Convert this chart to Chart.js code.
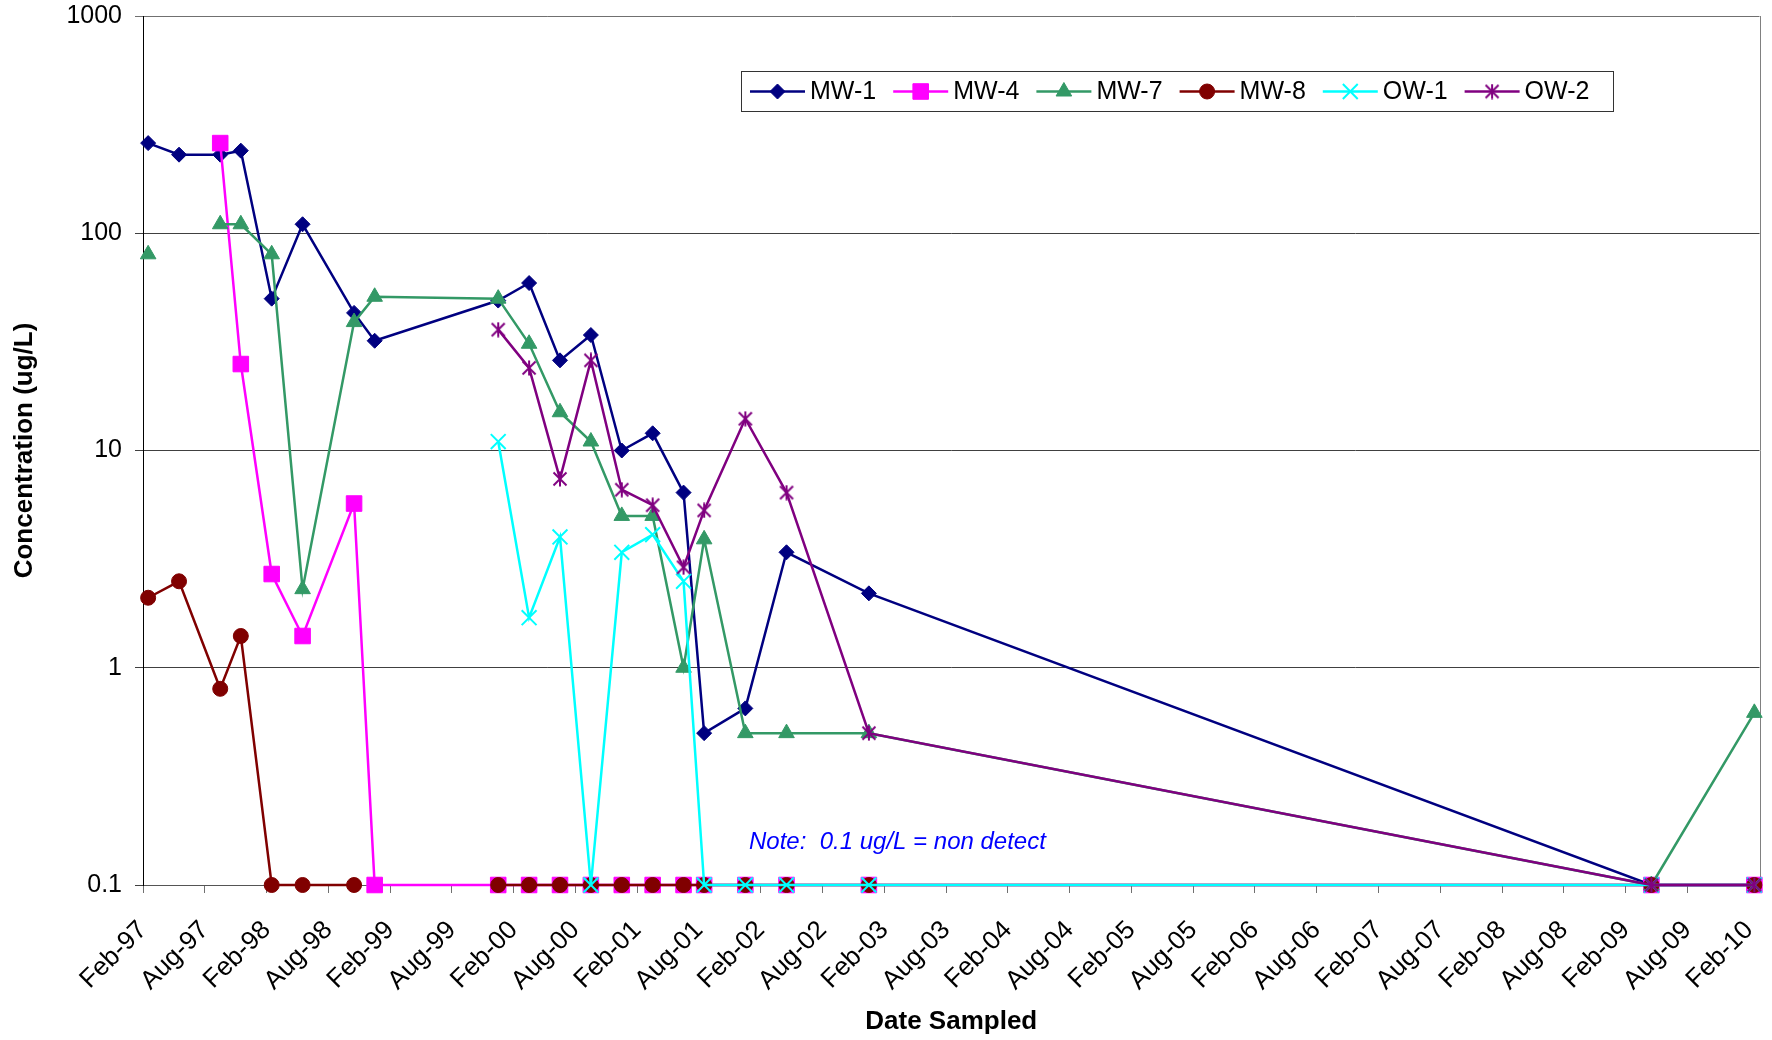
<!DOCTYPE html>
<html>
<head>
<meta charset="utf-8">
<title>Concentration vs. Date Sampled</title>
<script src="https://cdn.jsdelivr.net/npm/chart.js@4.4.1/dist/chart.umd.min.js"></script>
<style>
  html, body { margin: 0; padding: 0; background: #ffffff; }
  #wrap { width: 1772px; height: 1040px; }
</style>
</head>
<body>
<div id="wrap"><canvas id="chart" width="1772" height="1040"></canvas></div>
<script>
// Sampling events (year-month); null = not sampled on that date
const sampleDates = ['1997-02', '1997-05', '1997-09', '1997-11', '1998-02', '1998-05', '1998-10',
  '1998-12', '1999-12', '2000-03', '2000-06', '2000-09', '2000-12', '2001-03', '2001-06',
  '2001-08', '2001-12', '2002-04', '2002-12', '2009-04', '2010-02'];

// Concentrations in ug/L (0.1 = non detect)
const mw1 = [260, 230, 230, 240, 50, 110, 43, 32, 49, 59, 26, 34, 10, 12, 6.4, 0.5, 0.65, 3.4, 2.2, 0.1, 0.1];
const mw4 = [null, null, 260, 25, 2.7, 1.4, 5.7, 0.1, 0.1, 0.1, 0.1, 0.1, 0.1, 0.1, 0.1, 0.1, 0.1, 0.1, 0.1, 0.1, 0.1];
const mw7 = [80, null, 110, 110, 80, 2.3, 39, 51, 50, 31, 15, 11, 5.0, 5.0, 1.0, 3.9, 0.5, 0.5, 0.5, 0.1, 0.62];
const mw8 = [2.1, 2.5, 0.8, 1.4, 0.1, 0.1, 0.1, null, 0.1, 0.1, 0.1, 0.1, 0.1, 0.1, 0.1, 0.1, 0.1, 0.1, 0.1, 0.1, 0.1];
const ow1 = [null, null, null, null, null, null, null, null, 11, 1.7, 4.0, 0.1, 3.4, 4.1, 2.5, 0.1, 0.1, 0.1, 0.1, 0.1, 0.1];
const ow2 = [null, null, null, null, null, null, null, null, 36, 24, 7.4, 26, 6.6, 5.6, 2.9, 5.3, 14, 6.4, 0.5, 0.1, 0.1];

const seriesNames = ['MW-1', 'MW-4', 'MW-7', 'MW-8', 'OW-1', 'OW-2'];

// Axis ticks
const yTickValues = [0.1, 1, 10, 100, 1000];
const yTickLabels = ['0.1', '1', '10', '100', '1000'];
const xTickLabels = ['Feb-97', 'Aug-97', 'Feb-98', 'Aug-98', 'Feb-99', 'Aug-99', 'Feb-00', 'Aug-00',
  'Feb-01', 'Aug-01', 'Feb-02', 'Aug-02', 'Feb-03', 'Aug-03', 'Feb-04', 'Aug-04', 'Feb-05', 'Aug-05',
  'Feb-06', 'Aug-06', 'Feb-07', 'Aug-07', 'Feb-08', 'Aug-08', 'Feb-09', 'Aug-09', 'Feb-10'];
const axisStart = 'Feb-97';
const axisEnd = 'Mar-10';

const noteText = 'Note:  0.1 ug/L = non detect';

const FONT = '"Liberation Sans", Arial, Helvetica, sans-serif';
const MONTHS = ['Jan', 'Feb', 'Mar', 'Apr', 'May', 'Jun', 'Jul', 'Aug', 'Sep', 'Oct', 'Nov', 'Dec'];

// Month count on a monthly date axis
function monthNumber(year, month) { return year * 12 + (month - 1); }
function labelMonth(lbl) {
  const [mon, yy] = lbl.split('-');
  const n = Number(yy);
  return monthNumber(n > 50 ? 1900 + n : 2000 + n, MONTHS.indexOf(mon) + 1);
}
const origin = labelMonth(axisStart);
function dateMonth(s) {
  const [y, m] = s.split('-').map(Number);
  return monthNumber(y, m) - origin;
}
// points sit in the middle of their month
function series(values) {
  return sampleDates.map((d, i) => ({ x: dateMonth(d) + 0.5, y: values[i] }));
}

// asterisk marker: an X crossed by a vertical stroke
function asteriskMarker(color, size) {
  const c = document.createElement('canvas');
  c.width = size; c.height = size;
  const g = c.getContext('2d');
  g.strokeStyle = color;
  g.lineWidth = 2;
  const p = 1.5, q = size - 1.5;
  g.beginPath();
  g.moveTo(p, p); g.lineTo(q, q);
  g.moveTo(q, p); g.lineTo(p, q);
  g.moveTo(size / 2, 0.5); g.lineTo(size / 2, size - 0.5);
  g.stroke();
  return c;
}

const styles = [
  { color: '#000080', pointStyle: 'rectRot', radius: 7.5, pbw: 1 },
  { color: '#FF00FF', pointStyle: 'rect', radius: 11, pbw: 1 },
  { color: '#339966', pointStyle: 'triangle', radius: 9, pbw: 1 },
  { color: '#800000', pointStyle: 'circle', radius: 7.5, pbw: 1 },
  { color: '#00FFFF', pointStyle: 'crossRot', radius: 10.5, pbw: 2 },
  { color: '#800080', pointStyle: asteriskMarker('#800080', 16), radius: 8, pbw: 2 }
];

const values = [mw1, mw4, mw7, mw8, ow1, ow2];
const datasets = values.map((vals, i) => ({
  label: seriesNames[i],
  data: series(vals),
  borderColor: styles[i].color,
  backgroundColor: styles[i].color,
  borderWidth: 2.5,
  pointStyle: styles[i].pointStyle,
  pointRadius: styles[i].radius,
  pointHoverRadius: styles[i].radius,
  pointBackgroundColor: styles[i].color,
  pointBorderColor: styles[i].color,
  pointBorderWidth: styles[i].pbw,
  tension: 0,
  spanGaps: false,
  clip: false,
  order: values.length - i   // later series drawn on top
}));

// right edge of the plot area
const frame = {
  id: 'frame',
  beforeDatasetsDraw(chart) {
    const { ctx, chartArea: a } = chart;
    ctx.save();
    ctx.strokeStyle = '#808080';
    ctx.lineWidth = 1;
    ctx.beginPath();
    ctx.moveTo(Math.round(a.right) + 0.5, a.top);
    ctx.lineTo(Math.round(a.right) + 0.5, a.bottom);
    ctx.stroke();
    ctx.restore();
  }
};

// non-detect note inside the plot
const note = {
  id: 'note',
  afterDatasetsDraw(chart) {
    const ctx = chart.ctx;
    ctx.save();
    ctx.font = 'italic 24px ' + FONT;
    ctx.fillStyle = '#0000FF';
    ctx.textAlign = 'left';
    ctx.textBaseline = 'middle';
    ctx.fillText(noteText, 749, 842);
    ctx.restore();
  }
};

// boxed horizontal legend with line + marker samples
const boxLegend = {
  id: 'boxLegend',
  afterDraw(chart) {
    const ctx = chart.ctx;
    const box = { x: 741, y: 71, w: 872, h: 40 };
    ctx.save();
    ctx.fillStyle = '#ffffff';
    ctx.fillRect(box.x, box.y, box.w, box.h);
    ctx.strokeStyle = '#333333';
    ctx.lineWidth = 1;
    ctx.strokeRect(box.x + 0.5, box.y + 0.5, box.w, box.h);
    ctx.font = '25px ' + FONT;
    ctx.textAlign = 'left';
    ctx.textBaseline = 'middle';
    const cy = box.y + box.h / 2 + 0.5;
    let x = box.x + 9;
    chart.data.datasets.forEach(ds => {
      ctx.strokeStyle = ds.borderColor;
      ctx.lineWidth = ds.borderWidth;
      ctx.beginPath();
      ctx.moveTo(x, cy);
      ctx.lineTo(x + 55, cy);
      ctx.stroke();
      ctx.fillStyle = ds.pointBackgroundColor;
      ctx.strokeStyle = ds.pointBorderColor;
      ctx.lineWidth = ds.pointBorderWidth;
      Chart.helpers.drawPoint(ctx, {
        pointStyle: ds.pointStyle, radius: ds.pointRadius,
        borderWidth: ds.pointBorderWidth, rotation: 0
      }, x + 27.5, cy);
      ctx.fillStyle = '#000000';
      ctx.fillText(ds.label, x + 60, cy + 1);
      x += 60 + ctx.measureText(ds.label).width + 17;
    });
    ctx.restore();
  }
};

new Chart(document.getElementById('chart'), {
  type: 'line',
  data: { datasets },
  plugins: [frame, note, boxLegend],
  options: {
    responsive: false,
    animation: false,
    events: [],
    layout: { padding: { left: 0, top: 16, right: 9, bottom: 0 } },
    plugins: { legend: { display: false }, tooltip: { enabled: false } },
    scales: {
      x: {
        type: 'linear',
        min: 0,
        max: labelMonth(axisEnd) - origin,
        afterBuildTicks: s => { s.ticks = xTickLabels.map(l => ({ value: labelMonth(l) - origin })); },
        afterFit: s => { s.height = 155; s.paddingLeft = 0; s.paddingRight = 0; },
        grid: { drawOnChartArea: false, drawTicks: true, tickLength: 8, color: '#707070', lineWidth: 1 },
        border: { color: '#555555', width: 1 },
        ticks: {
          autoSkip: false, maxRotation: 45, minRotation: 45, padding: 22,
          color: '#000000', font: { family: FONT, size: 26 },
          callback: (v, i) => xTickLabels[i]
        },
        title: {
          display: true, text: 'Date Sampled', color: '#000000',
          font: { family: FONT, size: 26, weight: 'bold' }, padding: { top: 0, bottom: 3 }
        }
      },
      y: {
        type: 'logarithmic',
        min: 0.1,
        max: 1000,
        afterBuildTicks: s => { s.ticks = yTickValues.map(v => ({ value: v })); },
        afterFit: s => { s.width = 143; s.paddingTop = 0; s.paddingBottom = 0; },
        grid: {
          color: c => (c.tick && c.tick.value === 1000) ? '#707070' : '#404040',
          lineWidth: 1, drawTicks: true, tickLength: 8
        },
        border: { color: '#000000', width: 1 },
        ticks: {
          padding: 13, color: '#000000', font: { family: FONT, size: 25 },
          callback: (v, i) => yTickLabels[i]
        },
        title: {
          display: true, text: 'Concentration (ug/L)', color: '#000000',
          font: { family: FONT, size: 26, weight: 'bold' }, padding: { top: 9, bottom: 0 }
        }
      }
    }
  }
});
</script>
</body>
</html>
